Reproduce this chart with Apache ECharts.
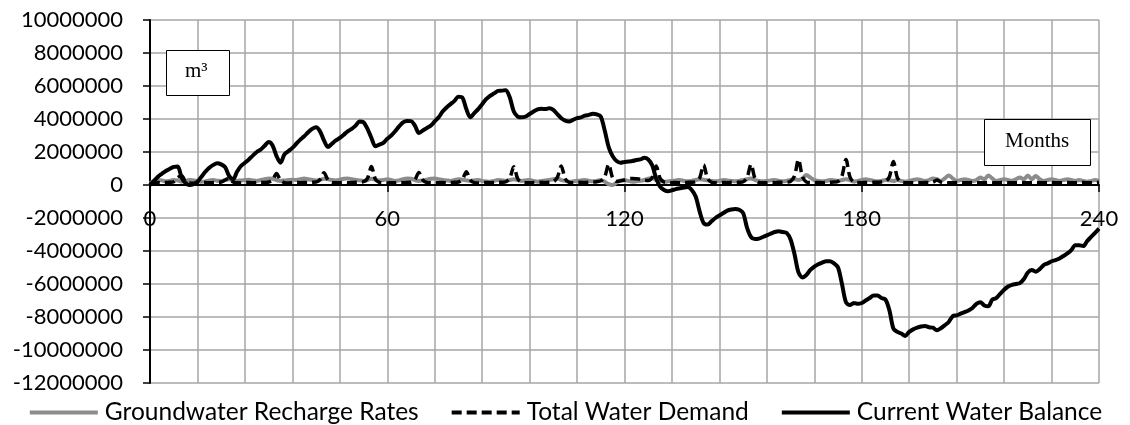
<!DOCTYPE html>
<html>
<head>
<meta charset="utf-8">
<script src="https://cdn.jsdelivr.net/npm/echarts@6/dist/echarts.min.js"></script>
<style>
html,body{margin:0;padding:0;background:#fff;}
#chart{width:1130px;height:425px;}
</style>
</head>
<body>
<div id="chart"></div>
<script>
// Month index 0..240
var months = Array.from({length: 241}, function (_, i) { return i; });
var xTickLabels = ['0', '60', '120', '180', '240'];
var seriesNames = ['Groundwater Recharge Rates', 'Total Water Demand', 'Current Water Balance'];

var rechargeValues = [
100000,250000,300000,280000,220000,250000,300000,280000,200000,250000,300000,280000,
250000,200000,220000,280000,300000,260000,250000,300000,350000,300000,250000,280000,
300000,320000,280000,250000,300000,350000,400000,380000,300000,250000,280000,300000,
320000,300000,350000,400000,350000,300000,280000,320000,380000,350000,300000,280000,
320000,380000,400000,350000,300000,280000,250000,300000,380000,320000,280000,300000,
350000,300000,250000,280000,350000,400000,380000,300000,250000,280000,320000,380000,
400000,350000,300000,280000,250000,300000,350000,320000,280000,250000,280000,300000,
250000,220000,200000,250000,300000,280000,250000,300000,350000,300000,250000,280000,
300000,250000,200000,250000,280000,300000,350000,400000,300000,250000,200000,220000,
250000,280000,300000,250000,220000,250000,300000,200000,50000,0,150000,280000,
300000,250000,200000,220000,250000,300000,380000,420000,300000,250000,200000,220000,
250000,280000,300000,250000,220000,250000,300000,350000,320000,280000,250000,220000,
250000,300000,280000,250000,220000,250000,300000,350000,400000,300000,250000,220000,
250000,280000,300000,250000,220000,250000,300000,350000,300000,400000,600000,450000,
300000,250000,220000,250000,300000,280000,250000,300000,350000,300000,200000,250000,
300000,350000,300000,250000,220000,250000,300000,280000,250000,300000,250000,200000,
250000,300000,350000,300000,250000,300000,400000,350000,250000,400000,580000,400000,
250000,300000,350000,300000,250000,300000,450000,350000,580000,400000,250000,300000,
350000,300000,250000,350000,450000,350000,580000,350000,550000,350000,250000,300000,
350000,300000,250000,300000,350000,300000,250000,300000,250000,200000,250000,300000,
250000
];

var demandValues = [
50000,120000,150000,130000,150000,170000,200000,450000,560000,200000,120000,100000,
120000,140000,150000,130000,150000,160000,180000,300000,420000,180000,130000,120000,
140000,150000,130000,150000,160000,150000,180000,300000,700000,280000,140000,120000,
130000,150000,140000,160000,150000,170000,180000,320000,750000,300000,150000,130000,
140000,150000,130000,150000,160000,180000,200000,400000,1120000,350000,160000,130000,
120000,140000,130000,150000,140000,160000,180000,320000,760000,300000,150000,130000,
120000,140000,150000,130000,150000,160000,180000,330000,800000,300000,140000,120000,
130000,150000,140000,150000,160000,170000,200000,420000,1100000,380000,160000,140000,
130000,150000,140000,160000,150000,170000,200000,450000,1150000,380000,160000,140000,
150000,160000,150000,170000,180000,200000,250000,500000,1250000,420000,220000,250000,
300000,380000,400000,380000,350000,300000,280000,450000,1150000,400000,180000,150000,
140000,150000,130000,150000,160000,170000,200000,420000,1220000,400000,170000,140000,
130000,150000,140000,160000,150000,170000,200000,450000,1250000,400000,160000,140000,
130000,150000,140000,160000,170000,180000,220000,550000,1550000,500000,180000,150000,
140000,150000,140000,160000,170000,180000,220000,550000,1550000,500000,180000,150000,
140000,150000,140000,160000,170000,180000,220000,500000,1420000,450000,170000,140000,
130000,140000,130000,140000,150000,140000,160000,300000,180000,140000,130000,140000,
150000,140000,130000,140000,150000,140000,130000,140000,150000,140000,130000,140000,
150000,140000,130000,140000,150000,140000,130000,140000,150000,140000,130000,140000,
150000,140000,130000,140000,150000,140000,130000,140000,150000,140000,130000,140000,
150000
];

var balanceValues = [
0,250000,500000,680000,850000,980000,1100000,1120000,450000,120000,0,50000,
200000,500000,800000,1050000,1220000,1320000,1250000,1080000,550000,350000,800000,1150000,
1350000,1550000,1780000,2000000,2150000,2380000,2600000,2400000,1750000,1350000,1850000,2050000,
2250000,2500000,2750000,2950000,3200000,3400000,3500000,3250000,2700000,2300000,2500000,2700000,
2850000,3050000,3250000,3400000,3600000,3850000,3800000,3400000,2850000,2350000,2450000,2550000,
2800000,3000000,3260000,3550000,3800000,3880000,3870000,3600000,3150000,3300000,3450000,3600000,
3850000,4100000,4450000,4700000,4900000,5100000,5350000,5300000,4600000,4100000,4350000,4600000,
4900000,5200000,5400000,5550000,5700000,5720000,5750000,5300000,4450000,4150000,4100000,4150000,
4300000,4450000,4580000,4620000,4600000,4650000,4550000,4300000,4050000,3900000,3850000,3950000,
4050000,4100000,4200000,4250000,4320000,4280000,4150000,3300000,2300000,1750000,1450000,1350000,
1400000,1420000,1450000,1520000,1550000,1650000,1550000,1200000,400000,-100000,-300000,-380000,
-320000,-250000,-200000,-150000,-120000,-300000,-700000,-1600000,-2300000,-2400000,-2200000,-2000000,
-1850000,-1700000,-1550000,-1480000,-1450000,-1500000,-1700000,-2600000,-3150000,-3280000,-3250000,-3150000,
-3050000,-2950000,-2850000,-2800000,-2850000,-2900000,-3300000,-4200000,-5300000,-5600000,-5450000,-5150000,
-4950000,-4800000,-4700000,-4620000,-4620000,-4750000,-5000000,-6000000,-7100000,-7280000,-7150000,-7200000,
-7150000,-7000000,-6850000,-6700000,-6700000,-6850000,-6950000,-7600000,-8700000,-8900000,-9000000,-9150000,
-8900000,-8750000,-8650000,-8580000,-8550000,-8620000,-8650000,-8800000,-8680000,-8500000,-8300000,-7950000,
-7900000,-7800000,-7700000,-7600000,-7450000,-7200000,-7100000,-7300000,-7350000,-6950000,-6850000,-6600000,
-6350000,-6150000,-6050000,-6000000,-5950000,-5700000,-5300000,-5150000,-5250000,-5100000,-4850000,-4750000,
-4620000,-4550000,-4450000,-4300000,-4150000,-3950000,-3650000,-3650000,-3700000,-3400000,-3150000,-2900000,
-2650000
];

function pairs(vals) {
  return months.map(function (m, i) { return [m, vals[i]]; });
}

var FONT = 'Lato';
var chart = echarts.init(document.getElementById('chart'), null, {renderer: 'canvas'});
var gridColor = '#a6a6a6';

chart.setOption({
  animation: false,
  backgroundColor: '#ffffff',
  grid: {left: 150, right: 31, top: 20, bottom: 42, containLabel: false},
  xAxis: [{
    type: 'value', min: 0, max: 240, interval: 60,
    axisLine: {onZero: true, lineStyle: {color: '#000', width: 2}},
    axisTick: {show: true, length: 7, lineStyle: {color: '#000', width: 1.5}},
    axisLabel: {show: false},
    splitLine: {show: true, lineStyle: {color: gridColor, width: 1.5}},
    minorTick: {show: false, splitNumber: 5},
    minorSplitLine: {show: true, lineStyle: {color: gridColor, width: 1.5}}
  }, {
    type: 'value', min: 0, max: 240, interval: 60, position: 'bottom', offset: -198,
    axisLine: {show: false, onZero: false},
    axisTick: {show: false},
    splitLine: {show: false},
    axisLabel: {
      margin: 23, fontSize: 22, fontFamily: FONT, color: '#000',
      formatter: function (v) { return xTickLabels[Math.round(v / 60)]; }
    }
  }],
  yAxis: {
    type: 'value', min: -12000000, max: 10000000, interval: 2000000,
    axisLine: {show: true, onZero: false, lineStyle: {color: '#000', width: 2}},
    axisTick: {show: true, length: 7, lineStyle: {color: '#000', width: 1.5}},
    axisLabel: {margin: 27, fontSize: 22, fontFamily: FONT, color: '#000',
      formatter: function (v) { return String(v); }},
    splitLine: {show: true, lineStyle: {color: gridColor, width: 1.5}}
  },
  legend: {
    top: 395, left: 'center', itemWidth: 68, itemHeight: 14, itemGap: 31,
    textStyle: {fontSize: 24.5, fontFamily: FONT, color: '#000', padding: [0, 0, 0, 2]},
    itemStyle: {opacity: 0},
    lineStyle: {width: 4},
    data: seriesNames
  },
  graphic: [
    {type: 'rect', left: 166, top: 50, shape: {width: 63, height: 45},
     style: {fill: '#fff', stroke: '#000', lineWidth: 1}, z: 100},
    {type: 'text', left: 185, top: 61, z: 101,
     style: {text: 'm³', font: '21px "Liberation Serif"', fill: '#000'}},
    {type: 'rect', left: 984, top: 119, shape: {width: 106, height: 46},
     style: {fill: '#fff', stroke: '#000', lineWidth: 1}, z: 100},
    {type: 'text', left: 1005, top: 131, z: 101,
     style: {text: 'Months', font: '21px "Liberation Serif"', fill: '#000'}}
  ],
  series: [
    {name: seriesNames[0], type: 'line', data: pairs(rechargeValues), symbol: 'none', smooth: 0.3,
     lineStyle: {color: '#8c8c8c', width: 4}, itemStyle: {color: '#8c8c8c'}, z: 2},
    {name: seriesNames[1], type: 'line', data: pairs(demandValues), symbol: 'none', smooth: 0.3,
     lineStyle: {color: '#000', width: 3.5, type: [10, 5]}, itemStyle: {color: '#000'}, z: 3},
    {name: seriesNames[2], type: 'line', data: pairs(balanceValues), symbol: 'none', smooth: 0.3,
     lineStyle: {color: '#000', width: 4}, itemStyle: {color: '#000'}, z: 4}
  ]
});
</script>
</body>
</html>
